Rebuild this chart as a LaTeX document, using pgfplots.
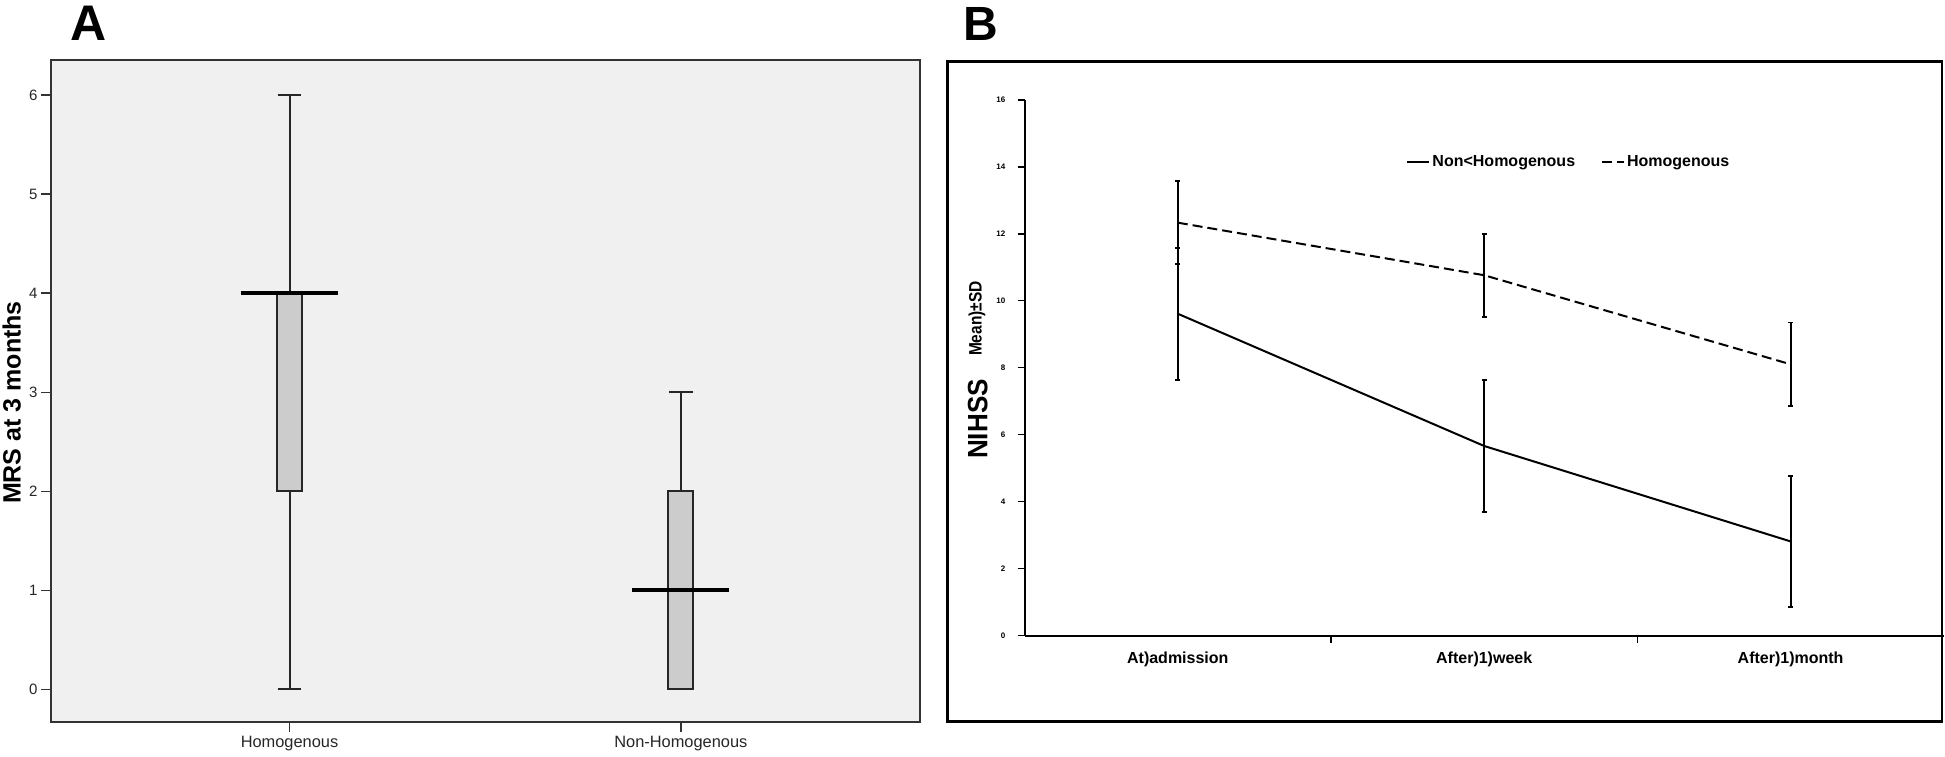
\documentclass[border=0pt]{standalone}
\usepackage{fontspec}
\setmainfont{Liberation Sans}
\usepackage{graphicx}
\usepackage{pgfplots}
\pgfplotsset{compat=1.18}
\usepgfplotslibrary{statistics}
\definecolor{bgA}{HTML}{F0F0F0}
\definecolor{boxfill}{HTML}{CCCCCC}
\begin{document}
\begin{tikzpicture}
\path[use as bounding box] (0pt,0pt) rectangle (972.5pt,378pt);
% Panel labels
\node[anchor=base west, inner sep=0pt, font=\fontsize{25}{28}\selectfont\bfseries] at (35pt,357.5pt) {A};
\node[anchor=base west, inner sep=0pt, font=\fontsize{24}{27}\selectfont\bfseries] at (481.5pt,357.5pt) {B};

% ---------- Panel A ----------
\begin{axis}[
  at={(25.4pt,17.1pt)}, anchor=south west,
  scale only axis, width=434.4pt, height=330.75pt,
  xmin=0.39, xmax=2.61, ymin=-0.326, ymax=6.35,
  axis background/.style={fill=bgA},
  axis line style={line width=0.9pt, black!80},
  xtick={1,2}, xticklabels={Homogenous,Non-Homogenous},
  ytick={0,1,2,3,4,5,6},
  xtick pos=lower, ytick pos=left,
  tick align=outside, major tick length=5pt,
  tick style={black!80, line width=0.7pt},
  /pgf/number format/assume math mode=true,
  yticklabel style={font=\fontsize{7.5}{9}\selectfont, inner sep=1.5pt, text=black!85},
  xticklabel style={font=\fontsize{8.2}{10}\selectfont, inner sep=2pt, text=black!85},
  ylabel={MRS at 3 months},
  ylabel style={font=\fontsize{12.5}{15}\selectfont\bfseries, at={(axis description cs:-0.0346,0.4826)}, anchor=base},
  boxplot/draw direction=y,
  boxplot/draw/median/.code={%
    \draw[line width=2pt, black] (boxplot box cs:\pgfplotsboxplotvalue{median},-1.44) -- (boxplot box cs:\pgfplotsboxplotvalue{median},2.44);},
]
\addplot[boxplot prepared={draw position=1, lower whisker=0, lower quartile=2, median=4, upper quartile=4, upper whisker=6, box extend=0.064, whisker extend=0.06},
  fill=boxfill, draw=black!85, line width=1pt, solid] coordinates {};
\addplot[boxplot prepared={draw position=2, lower whisker=0, lower quartile=0, median=1, upper quartile=2, upper whisker=3, box extend=0.064, whisker extend=0.06},
  fill=boxfill, draw=black!85, line width=1pt, solid] coordinates {};
\end{axis}

% ---------- Panel B frame ----------
\draw[line width=1.4pt, black] (473.85pt,17.1pt) rectangle (971pt,347.4pt);

% ---------- Panel B ----------
\begin{axis}[
  at={(512.3pt,60.25pt)}, anchor=south west,
  scale only axis, width=459.6pt, height=267.85pt,
  xmin=0.5, xmax=3.5, ymin=0, ymax=16,
  axis x line=bottom, axis y line=left,
  axis line style={-, line width=1pt, black},
  xtick={1.5,2.5}, xticklabels={{},{}},
  extra x ticks={1,2,3},
  extra x tick labels={At)admission,After)1)week,After)1)month},
  extra x tick style={tick style={draw=none}},
  ytick={0,2,4,6,8,10,12,14,16},
  tick align=outside, major tick length=3.5pt,
  tick style={black, line width=0.8pt},
  /pgf/number format/assume math mode=true,
  yticklabel style={font=\fontsize{4}{5}\selectfont\bfseries, inner sep=0pt, xshift=-6pt},
  xticklabel style={font=\fontsize{8}{10}\selectfont\bfseries, inner sep=0pt, yshift=-4.5pt},
  ylabel={\scalebox{0.93}[1]{\fontsize{14}{16}\selectfont NIHSS}\hspace{11.65pt}\raisebox{2.8pt}{\scalebox{0.86}[1]{\fontsize{9}{10}\selectfont Mean)±SD}}},
  ylabel style={font=\bfseries, at={(axis description cs:-0.0406,0.4956)}, anchor=base},
  legend columns=2,
  legend image code/.code={\draw[#1] (0pt,0pt) -- (11pt,0pt);},
  legend style={draw=none, fill=none, at={(axis cs:1.745,14.13)}, anchor=west, inner sep=0pt,
    font=\fontsize{8}{9.6}\selectfont\bfseries,
    nodes={inner sep=1pt},
    /tikz/every even column/.append style={column sep=12pt}},
]
\addlegendimage{black, line width=1pt}
\addlegendentry{Non<Homogenous}
\addlegendimage{black, line width=1pt, dash pattern=on 5pt off 2.5pt}
\addlegendentry{Homogenous}
\addplot[forget plot, black, line width=1pt,
  error bars/.cd, y dir=both, y explicit,
  error bar style={line width=0.9pt, solid, black},
  error mark options={rotate=90, mark size=1.3pt, line width=0.9pt, solid, black}]
  coordinates {(1,9.61) +- (0,1.97) (2,5.66) +- (0,1.965) (3,2.81) +- (0,1.965)};
\addplot[forget plot, black, line width=1pt, dash pattern=on 5pt off 2.5pt,
  error bars/.cd, y dir=both, y explicit,
  error bar style={line width=0.9pt, solid, black},
  error mark options={rotate=90, mark size=1.3pt, line width=0.9pt, solid, black}]
  coordinates {(1,12.33) +- (0,1.24) (2,10.76) +- (0,1.24) (3,8.10) +- (0,1.25)};
\end{axis}
\end{tikzpicture}
\end{document}
